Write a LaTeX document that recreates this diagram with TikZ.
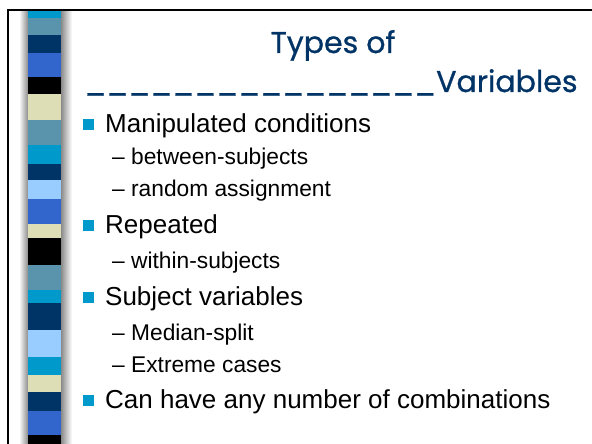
\documentclass[tikz,border=0pt]{standalone}
\usepackage{fontspec}
\setmainfont{Liberation Sans}
\newfontfamily\titlefont[FakeBold=0.8]{Poppins}
\definecolor{titleblue}{RGB}{0,51,102}
\definecolor{bulletcyan}{RGB}{0,153,204}
\definecolor{stcyan}{RGB}{0,153,204}
\definecolor{ststeel}{RGB}{90,147,172}
\definecolor{stnavy}{RGB}{0,51,102}
\definecolor{stroyal}{RGB}{51,102,204}
\definecolor{stbeige}{RGB}{221,221,182}
\definecolor{stlight}{RGB}{153,204,255}
\begin{document}
\begin{tikzpicture}[x=1pt,y=-1pt,
  mainitem/.style={anchor=base west,inner sep=0pt,font=\fontsize{26}{30}\selectfont},
  subitem/.style={anchor=base west,inner sep=0pt,font=\fontsize{22.75}{27}\selectfont},
  bulletsq/.style={fill=bulletcyan,draw=none,minimum size=10.5pt,inner sep=0pt},
  titletext/.style={anchor=base,inner sep=0pt,text=titleblue,font=\titlefont\fontsize{30}{36}\selectfont}]
\useasboundingbox (0,0) rectangle (592,444);
\fill[white] (0,0) rectangle (592,444);
% shadows beside the stripe
\shade[left color=white,right color=black!50] (19,10) rectangle (29,444);
\shade[left color=black!50,right color=white] (60,10) rectangle (72,444);
% stripe blocks
\foreach \ya/\yb/\c in {10/18/stcyan,18/35/ststeel,35/53/stnavy,53/77/stroyal,77/94/black,94/120/stbeige,120/145/ststeel,145/164/stcyan,164/180/stnavy,180/199/stlight,199/224/stroyal,224/238/stbeige,238/265/black,265/290/ststeel,290/303/stcyan,303/330/stnavy,330/357/stlight,357/375/stcyan,375/392/stbeige,392/411/stnavy,411/435/stroyal,435/444/black}
  {\fill[\c] (28,\ya) rectangle (61,\yb);}
% frame
\draw[line width=2pt] (8,444) -- (8,10.5) -- (592,10.5);
% title
\node[titletext] (t1) at (333,53) {Types of};
\node[titletext] (t2) at (331,92) {\_\_\_\_\_\_\_\_\_\_\_\_\_\_\_\_Variables};
% bullets
\node[bulletsq] (b1) at (88.5,124.5) {};
\node[mainitem] (m1) at (105,132) {Manipulated conditions};
\node[subitem] (s1) at (112,164) {– between-subjects};
\node[subitem] (s2) at (112,196.5) {– random assignment};
\node[bulletsq] (b2) at (88.5,225.5) {};
\node[mainitem] (m2) at (105,233) {Repeated};
\node[subitem] (s3) at (112,268) {– within-subjects};
\node[bulletsq] (b3) at (88.5,297.5) {};
\node[mainitem] (m3) at (105,305) {Subject variables};
\node[subitem] (s4) at (112,340) {– Median-split};
\node[subitem] (s5) at (112,372.5) {– Extreme cases};
\node[bulletsq] (b4) at (88.5,400.5) {};
\node[mainitem] (m4) at (105,408) {Can have any number of combinations};
\end{tikzpicture}
\end{document}
